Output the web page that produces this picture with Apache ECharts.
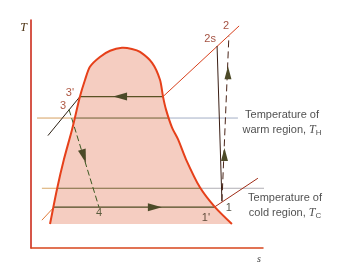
<!DOCTYPE html>
<html><head><meta charset="utf-8">
<script src="https://cdn.jsdelivr.net/npm/echarts@6.0.0/dist/echarts.min.js"></script>
<style>html,body{margin:0;padding:0;background:#fff}#c{width:340px;height:264px}</style>
</head><body><div id="c"></div>
<script>
// Saturation dome (entropy s, temperature T; arbitrary 0-100 units)
const domeS = [8.2, 11.2, 14.2, 17.7, 21.1, 23.3, 25.4, 29.7, 34.1, 39.2, 43.5, 47.0, 52.2, 55.6, 56.9, 58.2, 60.8, 63.4, 66.8, 72.8, 79.3, 86.6];
const domeT = [10.5, 25.8, 38.9, 52.0, 66.4, 73.8, 79.5, 83.8, 86.5, 87.8, 87.3, 86.0, 81.2, 73.8, 66.4, 60.7, 52.8, 47.6, 38.9, 26.6, 17.9, 10.5];

// Cycle lines
const highLiquidLine = [[7.3, 49.3], [21.1, 66.4]];
const condenseLine = [[21.1, 66.4], [56.9, 66.4]];
const highVaporLine = [[56.9, 66.4], [89.7, 97.4]];
const isentropeLine = [[80.2, 88.6], [82.3, 20.5]];
const compressLine = [[82.3, 20.5], [85.3, 93.0]];
const throttleLine = [[16.4, 60.7], [29.3, 17.9]];
const lowLiquidLine = [[4.7, 12.2], [9.9, 17.9]];
const evapLine = [[9.9, 17.9], [79.0, 17.9]];
const lowVaporLine = [[79.0, 17.9], [97.8, 30.6]];

// Reservoir temperature lines: T and s breakpoints (start, dome left, dome right, end)
const warmT = 57.0;
const warmS = [2.6, 18.9, 59.5, 89.2];
const coldT = 26.2;
const coldS = [4.7, 11.5, 73.1, 100.9];

// Flow arrows
const arrowS = [38.4, 53.4, 22.8, 84.9, 83.4];
const arrowT = [66.4, 17.9, 40.2, 76.9, 41.0];
const arrowDir = ['left', 'right', 'throttle', 'up', 'up'];

// State labels
const stateNames = ['2', '2s', "3'", '3', '4', "1'", '1'];
const stateS = [84.1, 77.2, 16.8, 13.8, 29.3, 75.4, 85.3];
const stateT = [97.4, 91.7, 68.1, 62.4, 15.3, 13.1, 17.5];

// Region notes
const noteS = [108.2, 109.5];
const noteT = [55.2, 18.8];

const chart = echarts.init(document.getElementById('c'), null, {renderer: 'canvas'});
function seg(data, color, width, type, z) {
  return {type: 'line', data: data, symbol: 'none', silent: true, clip: false, z: z || 3,
    animation: false, lineStyle: {color: color, width: width, type: type || 'solid', cap: 'butt'}};
}
const domePts = domeS.map((s, i) => [s, domeT[i]]);
const dirRot = {left: 90, right: -90, throttle: 197, up: 0};
const labelColor = {'2': '#8c2410', '2s': '#8c2410', "3'": '#9a2c12', '3': '#9a2c12', '4': '#34401c', "1'": '#3a2a18', '1': '#2a2a1a'};

const series = [
  {type: 'custom', z: 1, silent: true, clip: false, animation: false, data: [[0, 0]],
    renderItem: (p, api) => ({type: 'polygon', shape: {points: domePts.map(d => api.coord(d))},
      style: {fill: '#f5cdc1'}})},
  seg([[warmS[0], warmT], [warmS[1], warmT]], '#d6a060', 1),
  seg([[warmS[1], warmT], [warmS[2], warmT]], '#6e6034', 1),
  seg([[warmS[2], warmT], [warmS[3], warmT]], '#a4aec6', 1),
  seg([[coldS[0], coldT], [coldS[1], coldT]], '#d8a868', 1),
  seg([[coldS[1], coldT], [coldS[2], coldT]], '#7a6a3c', 1),
  seg([[coldS[2], coldT], [coldS[3], coldT]], '#b0aeb4', 1),
  seg(highLiquidLine, '#2c2014', 1),
  seg(condenseLine, '#5a5224', 1.2),
  seg(highVaporLine, '#d8401c', 1),
  seg(isentropeLine, '#3a1e14', 1),
  seg(compressLine, '#4a2418', 1, [7, 4]),
  seg(throttleLine, '#3c5a22', 1, [6, 3]),
  seg(lowLiquidLine, '#e07a38', 1),
  seg(evapLine, '#4e4a22', 1.2),
  seg(lowVaporLine, '#a02c16', 1),
  {type: 'custom', z: 5, silent: true, clip: false, animation: false, data: [[0, 0]],
    renderItem: (p, api) => ({type: 'polyline', shape: {points: domePts.map(d => api.coord(d)), smooth: 0.25},
      style: {stroke: '#e6401a', lineWidth: 2, fill: null}})},
  {type: 'scatter', z: 6, silent: true, clip: false, animation: false,
    data: arrowS.map((s, i) => ({value: [s, arrowT[i]], symbolRotate: dirRot[arrowDir[i]],
      symbolSize: arrowDir[i] === 'up' ? [7, 13] : [8, 14]})),
    symbol: 'triangle', itemStyle: {color: '#4c4a28', opacity: 1}},
  {type: 'scatter', z: 7, silent: true, clip: false, animation: false, symbolSize: 0,
    data: stateNames.map((n, i) => ({name: n, value: [stateS[i], stateT[i]],
      label: {color: labelColor[n]}})),
    label: {show: true, position: 'inside', formatter: '{b}', fontSize: 11,
      fontFamily: 'Liberation Sans, Arial, sans-serif'}},
  {type: 'scatter', z: 7, silent: true, clip: false, animation: false, symbolSize: 0,
    data: [
      {value: [noteS[0], noteT[0]], name: 'warm'},
      {value: [noteS[1], noteT[1]], name: 'cold'}
    ],
    label: {show: true, position: 'inside', align: 'center', color: '#1e1e1e',
      fontSize: 11, lineHeight: 14, fontFamily: 'Liberation Sans, Arial, sans-serif',
      formatter: p => p.name === 'warm'
        ? '{n|Temperature of}\n{n|warm region, }{i|T}{sub|H}'
        : '{n|Temperature of}\n{n|cold region, }{i|T}{sub|C}',
      rich: {
        n: {fontSize: 11, lineHeight: 15, color: '#1e1e1e', fontFamily: 'Liberation Sans, Arial, sans-serif'},
        i: {fontSize: 12, lineHeight: 15, color: '#1e1e1e', fontStyle: 'italic', fontFamily: 'Liberation Serif, Times New Roman, serif'},
        sub: {fontSize: 8, lineHeight: 11, verticalAlign: 'bottom', color: '#1e1e1e', fontFamily: 'Liberation Sans, Arial, sans-serif'}
      }}}
];

chart.setOption({
  animation: false,
  backgroundColor: '#ffffff',
  grid: {left: 31, top: 20, right: 77, bottom: 15, containLabel: false},
  xAxis: {type: 'value', min: 0, max: 100, name: 's', nameLocation: 'end', nameGap: -2,
    nameTextStyle: {fontFamily: 'Liberation Serif, serif', fontStyle: 'italic', fontSize: 10, color: '#3a3a3a',
      align: 'right', verticalAlign: 'top', padding: [6, 0, 0, 0]},
    axisLine: {show: true, lineStyle: {color: '#d8461c', width: 1.5}},
    axisTick: {show: false}, axisLabel: {show: false}, splitLine: {show: false}},
  yAxis: {type: 'value', min: 0, max: 100, name: 'T', nameLocation: 'end', nameGap: -2,
    nameTextStyle: {fontFamily: 'Liberation Serif, serif', fontStyle: 'italic', fontSize: 12, color: '#4a3010',
      align: 'right', verticalAlign: 'top', padding: [0, 4, 0, 0]},
    axisLine: {show: true, lineStyle: {color: '#c81e0c', width: 1.5}},
    axisTick: {show: false}, axisLabel: {show: false}, splitLine: {show: false}},
  series: series
});
</script></body></html>
